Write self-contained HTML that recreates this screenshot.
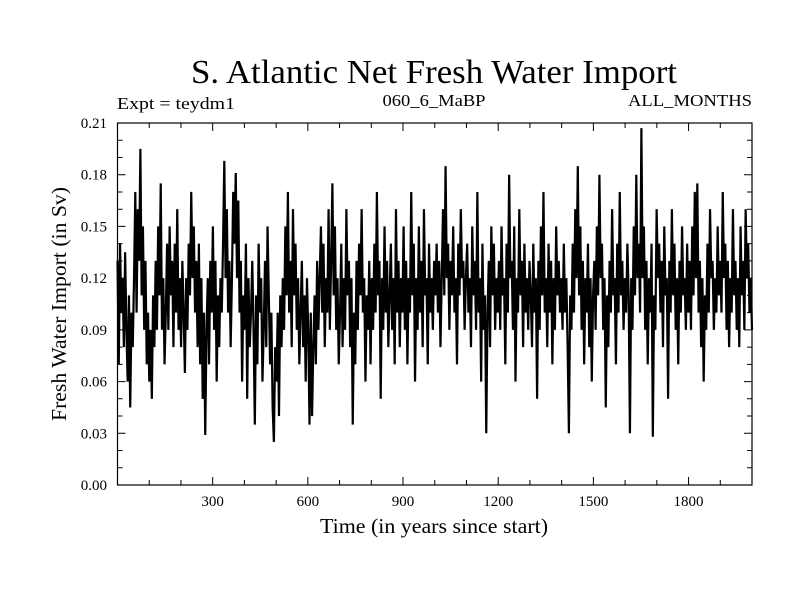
<!DOCTYPE html>
<html><head><meta charset="utf-8">
<style>
html,body{margin:0;padding:0;background:#fff;}
svg{display:block;}
text{font-family:"Liberation Serif",serif;fill:#000;}
</style></head>
<body>
<svg id="chart" width="800" height="600" viewBox="0 0 800 600">
<text x="434" y="83" font-size="34" text-anchor="middle" textLength="486" lengthAdjust="spacingAndGlyphs">S. Atlantic Net Fresh Water Import</text>
<text x="117" y="109" font-size="17" textLength="118" lengthAdjust="spacingAndGlyphs">Expt = teydm1</text>
<text x="434" y="106" font-size="17" text-anchor="middle" textLength="103" lengthAdjust="spacingAndGlyphs">060_6_MaBP</text>
<text x="752" y="106" font-size="17" text-anchor="end" textLength="124" lengthAdjust="spacingAndGlyphs">ALL_MONTHS</text>
<text x="434" y="533" font-size="21" text-anchor="middle" textLength="228" lengthAdjust="spacingAndGlyphs">Time (in years since start)</text>
<text transform="translate(66,304) rotate(-90)" font-size="21" text-anchor="middle" textLength="234" lengthAdjust="spacingAndGlyphs">Fresh Water Import (in Sv)</text>
<g id="ticks"></g>
<g id="plot"></g>
<rect x="117.5" y="123" width="634.5" height="362" fill="none" stroke="#000" stroke-width="1.2"/>
</svg>
<script>
const xMin = 0, xMax = 2000, yMin = 0, yMax = 0.21;
const xTickLabels = [300, 600, 900, 1200, 1500, 1800];
const yTickLabels = ["0.00","0.03","0.06","0.09","0.12","0.15","0.18","0.21"];
const series = [
0.13,0.07,0.14,0.10,0.12,0.08,0.135,0.09,0.06,0.11,0.045,0.10,0.08,0.12,0.17,0.10,0.16,0.13,0.195,0.11,0.15,0.09,0.13,0.07,0.10,
0.06,0.09,0.05,0.11,0.08,0.13,0.09,0.15,0.11,0.175,0.09,0.12,0.07,0.10,0.14,0.09,0.15,0.11,0.13,0.08,0.14,0.10,0.16,0.09,0.12,
0.08,0.13,0.10,0.065,0.12,0.09,0.14,0.11,0.17,0.12,0.15,0.10,0.13,0.08,0.14,0.07,0.12,0.05,0.10,0.029,0.09,0.12,0.07,0.13,0.10,
0.15,0.09,0.13,0.06,0.11,0.08,0.12,0.10,0.14,0.188,0.12,0.16,0.10,0.13,0.08,0.12,0.17,0.14,0.181,0.12,0.165,0.10,0.13,0.06,0.11,
0.09,0.14,0.05,0.12,0.08,0.10,0.13,0.09,0.035,0.11,0.07,0.14,0.10,0.12,0.06,0.09,0.13,0.08,0.15,0.11,0.07,0.10,0.045,0.025,0.08,
0.06,0.10,0.04,0.11,0.08,0.12,0.09,0.15,0.11,0.17,0.10,0.13,0.08,0.16,0.11,0.14,0.09,0.12,0.07,0.10,0.13,0.08,0.11,0.06,0.12,
0.09,0.035,0.10,0.04,0.08,0.11,0.07,0.13,0.09,0.12,0.15,0.10,0.14,0.08,0.12,0.10,0.16,0.09,0.13,0.175,0.11,0.15,0.09,0.12,0.07,
0.10,0.14,0.08,0.12,0.09,0.16,0.11,0.13,0.08,0.12,0.035,0.10,0.07,0.13,0.09,0.14,0.11,0.16,0.10,0.12,0.06,0.11,0.09,0.13,0.07,
0.12,0.09,0.14,0.10,0.17,0.11,0.13,0.05,0.12,0.09,0.15,0.10,0.13,0.08,0.11,0.14,0.09,0.12,0.07,0.16,0.10,0.13,0.08,0.12,0.10,
0.15,0.09,0.13,0.07,0.12,0.10,0.17,0.11,0.14,0.06,0.12,0.09,0.15,0.10,0.13,0.08,0.16,0.11,0.12,0.07,0.14,0.10,0.12,0.09,0.13,
0.11,0.14,0.10,0.13,0.08,0.12,0.16,0.11,0.185,0.12,0.14,0.09,0.13,0.11,0.15,0.10,0.12,0.07,0.14,0.11,0.16,0.12,0.13,0.09,0.12,
0.14,0.10,0.12,0.08,0.15,0.11,0.13,0.09,0.17,0.10,0.12,0.06,0.14,0.09,0.11,0.03,0.10,0.13,0.08,0.15,0.11,0.14,0.09,0.12,0.10,
0.13,0.09,0.15,0.11,0.12,0.07,0.14,0.10,0.18,0.12,0.13,0.09,0.15,0.06,0.12,0.10,0.16,0.11,0.13,0.08,0.14,0.10,0.12,0.09,0.13,
0.11,0.08,0.14,0.10,0.12,0.05,0.13,0.09,0.15,0.11,0.17,0.10,0.12,0.08,0.14,0.10,0.13,0.07,0.12,0.09,0.15,0.11,0.13,0.10,0.12,
0.09,0.14,0.10,0.12,0.08,0.03,0.11,0.09,0.14,0.10,0.16,0.12,0.185,0.11,0.15,0.09,0.13,0.07,0.12,0.10,0.14,0.08,0.12,0.06,0.11,
0.13,0.09,0.15,0.11,0.18,0.12,0.14,0.09,0.12,0.045,0.11,0.08,0.13,0.10,0.16,0.11,0.12,0.07,0.14,0.10,0.17,0.11,0.13,0.09,0.12,
0.10,0.14,0.11,0.03,0.12,0.09,0.15,0.11,0.18,0.12,0.14,0.10,0.207,0.12,0.15,0.09,0.13,0.07,0.12,0.10,0.14,0.028,0.11,0.09,0.16,
0.12,0.14,0.10,0.13,0.08,0.15,0.11,0.12,0.05,0.13,0.10,0.16,0.11,0.14,0.09,0.12,0.07,0.13,0.10,0.15,0.11,0.12,0.09,0.14,0.10,
0.13,0.09,0.15,0.11,0.17,0.12,0.175,0.10,0.13,0.08,0.12,0.06,0.11,0.09,0.14,0.10,0.16,0.12,0.13,0.09,0.12,0.10,0.15,0.11,0.13,
0.10,0.17,0.12,0.14,0.09,0.13,0.08,0.12,0.10,0.16,0.11,0.13,0.09,0.12,0.08,0.15,0.11,0.13,0.09,0.16,0.12,0.14,0.10,0.12,0.09
];
const L = 117.5, R = 752, T = 123, B = 485;
const xs = v => L + (v - xMin) / (xMax - xMin) * (R - L);
const ys = v => B - (v - yMin) / (yMax - yMin) * (B - T);
const NS = "http://www.w3.org/2000/svg";
const tg = document.getElementById("ticks");
let td = "";
for (let t = 100; t < xMax; t += 100) {
  const len = (t % 300 === 0) ? 8 : 5;
  const x = xs(t);
  td += `M${x},${B}V${B-len}M${x},${T}V${T+len}`;
}
for (let k = 1; k < 21; k++) {
  const v = k * 0.01;
  const len = (k % 3 === 0) ? 8 : 5;
  const y = ys(v);
  td += `M${L},${y}H${L+len}M${R},${y}H${R-len}`;
}
const tp = document.createElementNS(NS, "path");
tp.setAttribute("d", td);
tp.setAttribute("stroke", "#000");
tp.setAttribute("stroke-width", "1");
tp.setAttribute("fill", "none");


tg.appendChild(tp);
xTickLabels.forEach(v => {
  const t = document.createElementNS(NS, "text");
  t.setAttribute("x", xs(v));
  t.setAttribute("y", 506);
  t.setAttribute("font-size", "15");
  t.setAttribute("text-anchor", "middle");
  t.textContent = v;
  
  
  tg.appendChild(t);
});
yTickLabels.forEach(s => {
  const t = document.createElementNS(NS, "text");
  t.setAttribute("x", 107);
  t.setAttribute("y", ys(parseFloat(s)) + 5);
  t.setAttribute("font-size", "15");
  t.setAttribute("text-anchor", "end");
  t.textContent = s;
  
  
  tg.appendChild(t);
});
const n = series.length;
let d = "";
series.forEach((v, i) => {
  const t = xMin + i * (xMax - xMin) / (n - 1);
  d += (i ? "L" : "M") + xs(t).toFixed(2) + "," + ys(v).toFixed(2);
});
const line = document.createElementNS(NS, "path");
line.setAttribute("d", d);
line.setAttribute("stroke", "#000");
line.setAttribute("stroke-width", "2.2");
line.setAttribute("fill", "none");


document.getElementById("plot").appendChild(line);
</script>
</body></html>
